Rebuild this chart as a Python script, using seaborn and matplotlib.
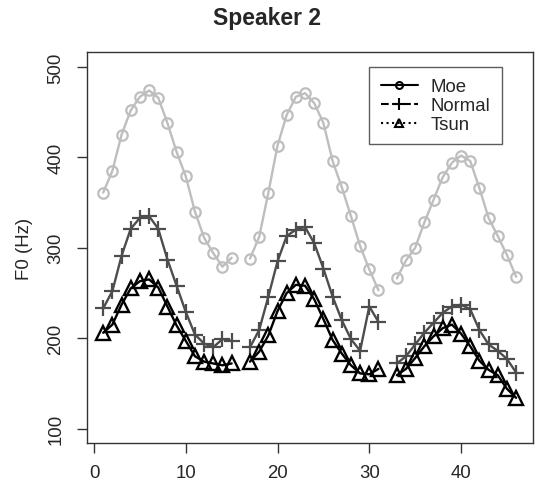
import matplotlib
matplotlib.use("Agg")
import matplotlib.pyplot as plt
import seaborn as sns
import pandas as pd
from matplotlib.lines import Line2D

# time index (three phrases, gaps at 16 and 32)
x_idx = [1, 2, 3, 4, 5, 6, 7, 8, 9, 10, 11, 12, 13, 14, 15,
         17, 18, 19, 20, 21, 22, 23, 24, 25, 26, 27, 28, 29, 30, 31,
         33, 34, 35, 36, 37, 38, 39, 40, 41, 42, 43, 44, 45, 46]
phrase = [1] * 15 + [2] * 15 + [3] * 14

moe = [361, 385, 425, 452, 467, 474, 466, 438, 406, 379, 340, 311, 294, 279, 289,
       288, 312, 361, 413, 447, 467, 471, 460, 438, 396, 367, 335, 302, 276, 253,
       266, 286, 300, 328, 353, 378, 394, 402, 396, 366, 333, 313, 292, 268]
normal = [233, 252, 291, 321, 333, 335, 321, 287, 258, 229, 204, 194, 190, 199, 197,
          190, 209, 246, 285, 313, 320, 323, 305, 277, 246, 220, 199, 186, 235, 218,
          172, 180, 193, 206, 217, 228, 235, 237, 232, 209, 193, 186, 177, 162]
tsun = [206, 215, 237, 255, 263, 265, 256, 235, 214, 197, 180, 174, 172, 170, 172,
        174, 185, 203, 230, 250, 259, 258, 243, 221, 198, 183, 170, 161, 160, 166,
        159, 166, 178, 191, 202, 211, 215, 205, 191, 175, 165, 159, 144, 134]

series_names = ["Moe", "Normal", "Tsun"]

sns.set_style("ticks")
plt.rcParams["font.family"] = ["Liberation Sans", "DejaVu Sans"]

df = pd.DataFrame({"x": x_idx, "phrase": phrase,
                   "Moe": moe, "Normal": normal, "Tsun": tsun})

fig = plt.figure(figsize=(5.36, 4.85), dpi=100)
ax = fig.add_axes([0.1617, 0.0845, 0.832, 0.8052])

styles = {
    "Moe": dict(color="#bebebe", marker="o", ms=7.5, mew=1.6, mfc="none"),
    "Normal": dict(color="#4d4d4d", marker="+", ms=12, mew=1.6, mfc="none"),
    "Tsun": dict(color="black", marker="^", ms=10, mew=1.7, mfc="none"),
}
for name in series_names:
    st = styles[name]
    sns.lineplot(data=df, x="x", y=name, units="phrase", estimator=None,
                 color=st["color"], lw=1.7, marker=st["marker"], ms=st["ms"],
                 markeredgewidth=st["mew"], markeredgecolor=st["color"],
                 markerfacecolor=st["mfc"], ax=ax)

ax.set_xlim(-0.8, 47.8)
ax.set_ylim(84, 516)
ax.set_xticks([0, 10, 20, 30, 40])
ax.set_yticks([100, 200, 300, 400, 500])
ax.set_yticklabels(["100", "200", "300", "400", "500"], rotation=90, va="center")
ax.tick_params(axis="both", length=7, width=1, color="#333333", labelsize=13.4, pad=9)
ax.tick_params(axis="x", pad=8)
for s in ax.spines.values():
    s.set_visible(True)
    s.set_color("#333333")
    s.set_linewidth(1)
ax.set_xlabel("")
ax.set_ylabel("F0 (Hz)", fontsize=13.4)
ax.yaxis.set_label_coords(-0.12, 0.5)

handles = [
    Line2D([], [], color="black", ls="-", marker="o", ms=5, mfc="none", mew=1.5, lw=1.5),
    Line2D([], [], color="black", ls="--", marker="+", ms=9, mew=1.5, lw=1.5),
    Line2D([], [], color="black", ls=":", marker="^", ms=6, mfc="none", mew=1.5, lw=1.5),
]
leg = ax.legend(handles, series_names, loc="upper right",
                bbox_to_anchor=(501.7 / 536, 1 - 68.3 / 485),
                bbox_transform=fig.transFigure, frameon=True, fancybox=False,
                edgecolor="#333333", fontsize=13.4, handlelength=2.0,
                handletextpad=0.7, labelspacing=0.1, borderpad=0.6,
                borderaxespad=0)
leg.get_frame().set_linewidth(1)

fig.text(0.498, 1 - 18 / 485, "Speaker 2", ha="center", va="center",
         fontsize=16.5, fontweight="bold")

fig.savefig("out.png", dpi=100)
